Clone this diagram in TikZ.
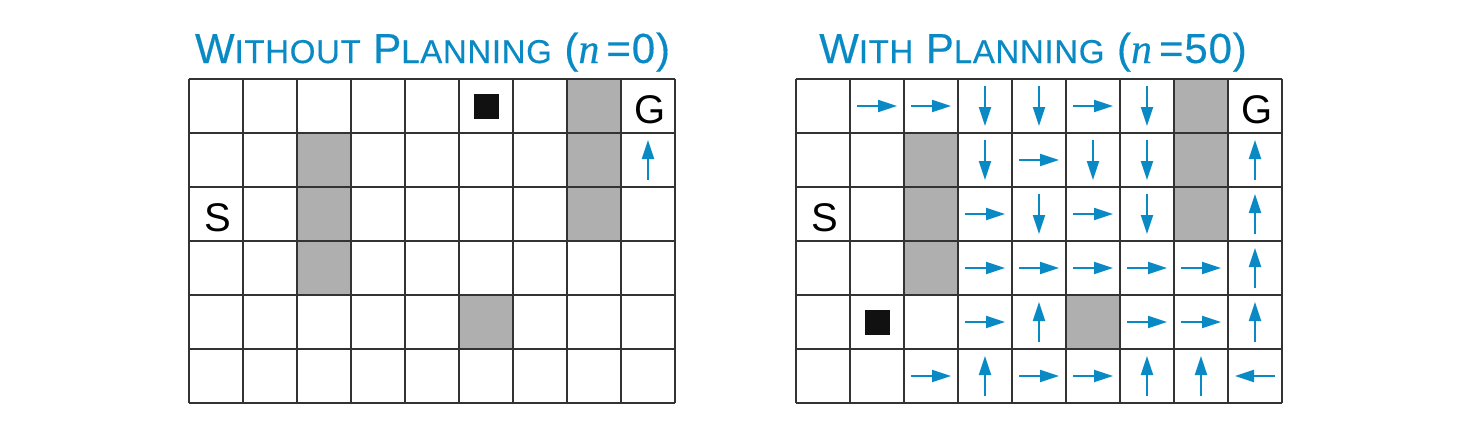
\documentclass[tikz,border=0pt]{standalone}
\usepackage{fontspec}
\setmainfont{Liberation Sans}
\newfontfamily\ttlfont{Liberation Sans}[LetterSpace=2.0,FakeBold=0.35]
\newfontfamily\tnr{Liberation Serif}[FakeBold=0.35]
\usetikzlibrary{arrows.meta}
\definecolor{tblue}{HTML}{0A8AC4}
\definecolor{obst}{HTML}{AFAFAF}
\definecolor{gridc}{HTML}{333333}
\definecolor{agent}{HTML}{111111}
\newcommand\bsc[2]{{\fontsize{42}{42}\selectfont #1}{\fontsize{33}{33}\selectfont #2}}
\tikzset{
  gl/.style={draw=gridc, line width=1.4pt},
  obstacle/.style={fill=obst},
  agentbox/.style={fill=agent},
  arr/.style={draw=tblue, line width=2pt, -{Triangle[length=19pt,width=12pt]}},
  lbl/.style={inner sep=0pt, anchor=base, font=\fontsize{40}{40}\selectfont},
  ttl/.style={inner sep=0pt, anchor=base, text=tblue, font=\ttlfont\fontsize{42}{42}\selectfont},
}
\begin{document}
\begin{tikzpicture}[x=1pt,y=-1pt]
\useasboundingbox[fill=white] (0,0) rectangle (1470,442);
% titles
\node[ttl] (t1) at (432.5,63) {\bsc{W}{ITHOUT} \bsc{P}{LANNING} ({\tnr\itshape n}\,=0)};
\node[ttl] (t2) at (1033,63) {\bsc{W}{ITH} \bsc{P}{LANNING} ({\tnr\itshape n}\,=50)};
% ---------- left grid ----------
\begin{scope}[shift={(189,79)}]
  \foreach \c/\r in {7/0,7/1,7/2,2/1,2/2,2/3,5/4}
    \fill[obstacle] (\c*54,\r*54) rectangle ++(54,54);
  \foreach \i in {0,...,9} \draw[gl] (\i*54,0) -- (\i*54,324);
  \foreach \j in {0,...,6} \draw[gl] (0,\j*54) -- (486,\j*54);
  \fill[agentbox] (5*54+27-12.5,27-12.5) rectangle ++(25,25);
  \node[lbl] (lS) at (29,2*54+27+17) {S};
  \node[lbl] (lG) at (8*54+29,27+17) {G};
  \draw[arr] (8*54+27,54+47) -- ++(0,-40);
\end{scope}
% ---------- right grid ----------
\begin{scope}[shift={(796,79)}]
  \foreach \c/\r in {7/0,7/1,7/2,2/1,2/2,2/3,5/4}
    \fill[obstacle] (\c*54,\r*54) rectangle ++(54,54);
  \foreach \i in {0,...,9} \draw[gl] (\i*54,0) -- (\i*54,324);
  \foreach \j in {0,...,6} \draw[gl] (0,\j*54) -- (486,\j*54);
  \fill[agentbox] (1*54+27-12.5,4*54+27-12.5) rectangle ++(25,25);
  \node[lbl] (rS) at (29,2*54+27+17) {S};
  \node[lbl] (rG) at (8*54+29,27+17) {G};
  % right arrows
  \foreach \c/\r in {1/0,2/0,5/0,4/1,3/2,5/2,3/3,4/3,5/3,6/3,7/3,3/4,6/4,7/4,2/5,4/5,5/5}
    \draw[arr] (\c*54+7,\r*54+27) -- ++(40,0);
  % down arrows
  \foreach \c/\r in {3/0,4/0,6/0,3/1,5/1,6/1,4/2,6/2}
    \draw[arr] (\c*54+27,\r*54+7) -- ++(0,40);
  % up arrows
  \foreach \c/\r in {8/1,8/2,8/3,4/4,8/4,3/5,6/5,7/5}
    \draw[arr] (\c*54+27,\r*54+47) -- ++(0,-40);
  % left arrow
  \draw[arr] (8*54+47,5*54+27) -- ++(-40,0);
\end{scope}
\end{tikzpicture}
\end{document}
